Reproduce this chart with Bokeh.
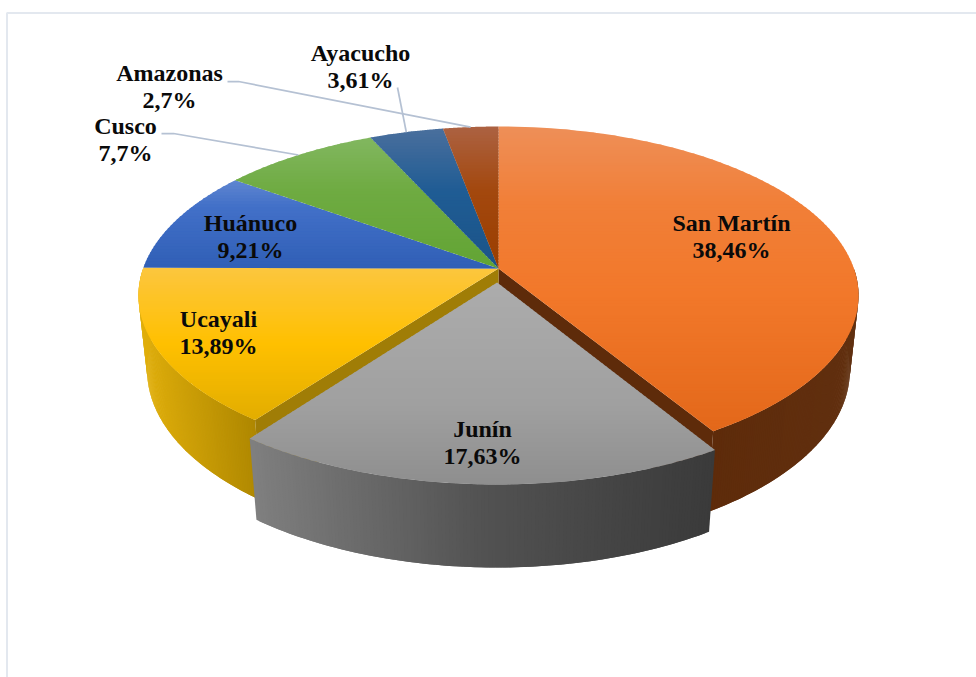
import math

from bokeh.core.properties import value
from bokeh.embed import file_html
from bokeh.models import ColumnDataSource, Range1d
from bokeh.plotting import figure
from bokeh.resources import INLINE

# Share of each region, clockwise from twelve o'clock
regions = ["San Martín", "Junín", "Ucayali", "Huánuco", "Cusco", "Ayacucho", "Amazonas"]
shares = [38.46, 17.63, 13.89, 9.21, 7.7, 3.61, 2.7]

WIDTH, HEIGHT = 976, 677

# Vertical colour ramps of the top faces: (position in slice height, colour)
top_ramps = {
    "San Martín": [(0.0, "#EE8F58"), (0.25, "#F17F38"), (0.55, "#F2782A"), (1.0, "#E3681A")],
    "Junín": [(0.0, "#ACACAC"), (0.6, "#A0A0A0"), (1.0, "#8E8E8E")],
    "Ucayali": [(0.0, "#FCC63F"), (0.5, "#FFC000"), (1.0, "#E2AD00")],
    "Huánuco": [(0.0, "#5F86D0"), (0.3, "#4270C8"), (1.0, "#305FB6")],
    "Cusco": [(0.0, "#82B760"), (0.4, "#6FAB42"), (1.0, "#62A434")],
    "Ayacucho": [(0.0, "#4A6F9D"), (0.45, "#1F5C94"), (1.0, "#1B5488")],
    "Amazonas": [(0.0, "#AC6242"), (0.45, "#A3480E"), (1.0, "#9A3E00")],
}
# Horizontal colour ramps of the outer walls
wall_ramps = {
    "San Martín": [(0.0, "#5E2B0A"), (1.0, "#613010")],
    "Junín": [(0.0, "#808080"), (0.5, "#525252"), (1.0, "#3A3A3A")],
    "Ucayali": [(0.0, "#E2B00C"), (1.0, "#AD8600")],
}
cut_faces = {"San Martín": "#5E2B0A", "Ucayali": "#A07D06"}

# Perspective of the disc: maps disc coordinates (u, v, depth) to the page
APEX_X, APEX_Y = 498.0, 268.0
SCALE_U, SCALE_V = 355.4, 164.7
TILT, DEPTH_W, DEPTH_Y = 0.16, 0.024, 75.8
EXPLODED = "Junín"
EXPLODE = 0.084


def project(u, v, depth=0.0):
    w = 1 + TILT * v + DEPTH_W * depth
    return APEX_X + SCALE_U * u / w, APEX_Y - (SCALE_V * v - DEPTH_Y * depth) / w


def to_rgb(code):
    return tuple(int(code[i:i + 2], 16) for i in (1, 3, 5))


def ramp_colour(ramp, t):
    t = min(max(t, 0.0), 1.0)
    for (t0, c0), (t1, c1) in zip(ramp, ramp[1:]):
        if t <= t1:
            f = (t - t0) / (t1 - t0)
            a, b = to_rgb(c0), to_rgb(c1)
            return "#%02X%02X%02X" % tuple(round(a[i] + (b[i] - a[i]) * f) for i in range(3))
    return ramp[-1][1]


def clip(poly, axis, limit, keep_above):
    out = []
    for i, p in enumerate(poly):
        q = poly[(i + 1) % len(poly)]
        p_in = (p[axis] >= limit) == keep_above
        q_in = (q[axis] >= limit) == keep_above
        if p_in:
            out.append(p)
        if p_in != q_in:
            f = (limit - p[axis]) / (q[axis] - p[axis])
            out.append((p[0] + (q[0] - p[0]) * f, p[1] + (q[1] - p[1]) * f))
    return out


xs, ys, colours = [], [], []


def add_poly(poly, colour):
    xs.append([q[0] for q in poly])
    ys.append([q[1] for q in poly])
    colours.append(colour)


def add_bands(poly, ramp, step=3.0, overlap=1.0):
    """Fill a polygon with thin horizontal bands that follow a colour ramp."""
    lo = min(q[1] for q in poly)
    hi = max(q[1] for q in poly)
    pos = lo
    while pos < hi:
        band = clip(poly, 1, pos, True)
        band = clip(band, 1, min(pos + step + overlap, hi), False) if band else band
        if len(band) >= 3:
            add_poly(band, ramp_colour(ramp, (pos + step / 2 - lo) / (hi - lo)))
        pos += step


def disc_point(angle, offset, depth=0.0):
    return project(math.sin(angle) + offset[0], math.cos(angle) + offset[1], depth)


def arc(a0, a1, offset, depth=0.0, count=90):
    return [disc_point(a0 + (a1 - a0) * i / count, offset, depth) for i in range(count + 1)]


# Slice angles follow the shares as a fraction of their own total
total = sum(shares)
angles = {}
running = 0.0
for name, share in zip(regions, shares):
    start = running
    running += share / total * 2 * math.pi
    mid = (start + running) / 2
    offset = (0.0, 0.0)
    if name == EXPLODED:
        offset = (EXPLODE * math.sin(mid), EXPLODE * math.cos(mid))
    angles[name] = (start, running, mid, offset)


def add_wall(name):
    """Sweep the outer wall as short overlapping quads, so its outline follows the rim."""
    a0, a1, _, offset = angles[name]
    a0 = max(a0, math.pi / 2) if name == "San Martín" else a0
    a1 = min(a1, 3 * math.pi / 2)
    top = arc(a0, a1, offset, count=140)
    low = arc(a0, a1, offset, 1.0, count=140)
    lo = min(q[0] for q in top + low)
    hi = max(q[0] for q in top + low)
    order = range(len(top) - 2)
    for i in order:
        t = ((top[i][0] + low[i + 1][0]) / 2 - lo) / (hi - lo)
        add_poly([top[i], top[i + 2], low[i + 2], low[i]], ramp_colour(wall_ramps[name], t))


def add_top(name):
    a0, a1, _, offset = angles[name]
    add_bands([project(offset[0], offset[1])] + arc(a0, a1, offset), top_ramps[name])


# Far parts first, the pulled-out slice last
add_wall("San Martín")
add_wall("Ucayali")
for name, edge in (("San Martín", 1), ("Ucayali", 0)):
    rim = angles[name][edge]
    add_poly([project(0, 0), disc_point(rim, (0, 0)), disc_point(rim, (0, 0), 1.0), project(0, 0, 1.0)],
             cut_faces[name])
for name in regions:
    if name != EXPLODED:
        add_top(name)
add_wall(EXPLODED)
add_top(EXPLODED)

p = figure(
    width=WIDTH,
    height=HEIGHT,
    x_range=Range1d(0, WIDTH),
    y_range=Range1d(HEIGHT, 0),
    output_backend="svg",
    toolbar_location=None,
    min_border=0,
    background_fill_color="white",
    border_fill_color="white",
    outline_line_color=None,
)
p.xaxis.visible = False
p.yaxis.visible = False
p.xgrid.visible = False
p.ygrid.visible = False

# Thin frame along the top and left of the chart area
p.line([6.5, 6.5, WIDTH], [HEIGHT, 12.5, 12.5], line_color="#E3E8EF", line_width=2)

p.patches("x", "y", fill_color="c", line_color=None,
          source=ColumnDataSource(dict(x=xs, y=ys, c=colours)))

# Leader lines from the outside labels to the rim of their slices
leader_starts = {
    "Amazonas": [(227, 81), (238, 81)],
    "Ayacucho": [(397, 87)],
    "Cusco": [(161, 133), (173, 133)],
}
for name, start in leader_starts.items():
    end = disc_point(angles[name][2], (0, 0))
    p.line([q[0] for q in start] + [end[0]], [q[1] for q in start] + [end[1]],
           line_color="#B5C1D3", line_width=1.75)

# Two-line labels: region name above its share
label_centres = {
    "San Martín": (731, 222),
    "Junín": (482, 428),
    "Ucayali": (218, 318),
    "Huánuco": (250, 222),
    "Cusco": (125, 125),
    "Ayacucho": (360, 52),
    "Amazonas": (169, 72),
}
LINE_GAP = 27
tx, ty, tt = [], [], []
for name, share in zip(regions, shares):
    cx, cy = label_centres[name]
    tx += [cx, cx]
    ty += [cy, cy + LINE_GAP]
    tt += [name, str(share).replace(".", ",") + "%"]
p.text("x", "y", text="t", source=ColumnDataSource(dict(x=tx, y=ty, t=tt)),
       text_font=value("Liberation Serif"), text_font_style="bold", text_font_size="24px",
       text_color="#0A0A0A", text_align="center", text_baseline="middle")

open("out.html", "w").write(file_html(p, INLINE))
